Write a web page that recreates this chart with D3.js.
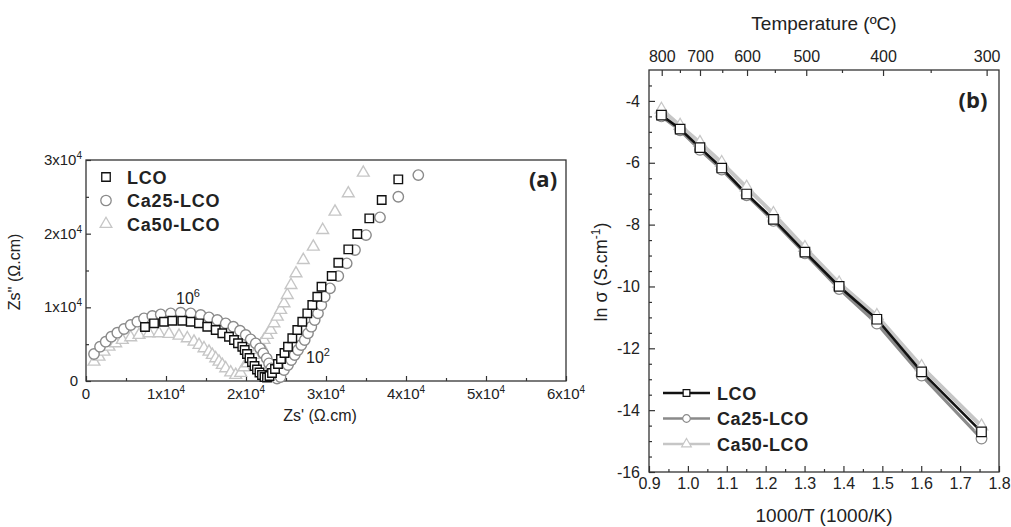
<!DOCTYPE html>
<html>
<head>
<meta charset="utf-8">
<script src="https://cdn.jsdelivr.net/npm/d3@7"></script>
<style>
  body { margin: 0; background: #fff; }
  text { font-family: "Liberation Sans", Arial, sans-serif; fill: #222; }
</style>
</head>
<body>
<div id="chart"></div>
<script>
// ---- panel (a): impedance spectra (ohm.cm) ----
const lcoRe  = [7375, 8500, 9750, 10788, 12038, 13088, 14125, 15163, 16213, 17038, 17875, 18500, 19000, 19538, 19838, 20125, 20438, 20750, 21063, 21375, 21688, 22000, 22313, 22625, 22938, 23250, 23625, 24000, 24375, 24813, 25250, 25788, 26413, 27038, 27663, 28288, 28913, 29438, 30713, 31538, 32788, 33913, 35413, 36963, 39038];
const lcoIm  = [7328, 7830, 8047, 8183, 8183, 8047, 7830, 7368, 6921, 6473, 6012, 5564, 5116, 4654, 4207, 3664, 3121, 2578, 2036, 1561, 1153, 814, 543, 475, 679, 1086, 1628, 2307, 2985, 3800, 4654, 5794, 6921, 8047, 9187, 10313, 11440, 12797, 14249, 16053, 17872, 19948, 22079, 24562, 27371];
const ca25Re = [1000, 1750, 2463, 3163, 3913, 4750, 5588, 6413, 7250, 8288, 9338, 10588, 11838, 13088, 14338, 15375, 16413, 17463, 18413, 19250, 19963, 20588, 21213, 21750, 22163, 22588, 22875, 23163, 23413, 23588, 23875, 24313, 24750, 25250, 25663, 26088, 26500, 26913, 27338, 27750, 28163, 28588, 29000, 29413, 29838, 30500, 31538, 32588, 33625, 35000, 36750, 39038, 41538];
const ca25Im = [3664, 4655, 5333, 6012, 6554, 7056, 7599, 8047, 8508, 8821, 9051, 9187, 9268, 9187, 8956, 8644, 8278, 7830, 7368, 6826, 6242, 5659, 5116, 4437, 3759, 3080, 2402, 1723, 1045, 584, 339, 543, 1493, 2171, 2850, 3528, 4207, 4885, 5564, 6473, 7368, 8278, 9187, 10313, 11440, 12580, 14249, 15972, 17777, 19812, 22214, 25010, 27954];
const ca50Re = [1000, 1625, 2250, 2875, 3713, 4538, 5588, 6625, 7875, 9125, 10375, 11625, 12663, 13500, 14125, 14750, 15375, 15788, 16213, 16625, 17038, 17463, 18088, 18713, 19338, 19750, 20163, 20588, 21000, 21413, 21838, 22250, 22663, 23088, 23500, 23913, 24338, 24750, 25163, 25625, 26250, 27163, 28413, 29588, 31125, 32788, 34663];
const ca50Im = [2619, 3298, 3976, 4655, 5116, 5564, 5930, 6242, 6473, 6473, 6378, 6147, 5794, 5333, 4885, 4437, 3976, 3528, 3080, 2619, 2171, 1723, 1153, 814, 1086, 1859, 2402, 2945, 3528, 4207, 4885, 5564, 6242, 6921, 7830, 8726, 9635, 10544, 11670, 13027, 14615, 16420, 18225, 20491, 22974, 25471, 28266];

// ---- panel (b): Arrhenius plot ----
const invT    = [0.932, 0.980, 1.031, 1.087, 1.151, 1.220, 1.301, 1.389, 1.486, 1.601, 1.755];
const lnLCO   = [-4.46, -4.91, -5.51, -6.17, -7.01, -7.83, -8.89, -10.00, -11.06, -12.76, -14.70];
const lnCa25  = [-4.50, -4.95, -5.58, -6.22, -7.05, -7.88, -8.93, -10.08, -11.20, -12.88, -14.92];
const lnCa50  = [-4.28, -4.80, -5.35, -6.00, -6.80, -7.65, -8.75, -9.90, -10.95, -12.60, -14.52];
const tempTicks = [800, 700, 600, 500, 400, 300];
const tempMinor = [750, 650, 550, 450, 350];

const seriesNames = ["LCO", "Ca25-LCO", "Ca50-LCO"];
const seriesColor = ["#111", "#8a8a8a", "#c6c6c6"];

const W = 1011, H = 527;
const svg = d3.select("#chart").append("svg")
  .attr("width", W).attr("height", H);

// ================= panel (a) =================
const ax = d3.scaleLinear().domain([0, 60000]).range([86, 566]);
const ay = d3.scaleLinear().domain([0, 30000]).range([381, 160]);

const gA = svg.append("g");

// ticks (inward)
gA.append("g").attr("transform", "translate(0,381)")
  .call(d3.axisBottom(ax).tickValues(d3.range(0, 60001, 10000)).tickSize(-5).tickFormat(""));
gA.append("g").attr("transform", "translate(0,381)")
  .call(d3.axisBottom(ax).tickValues(d3.range(5000, 60000, 10000)).tickSize(-3).tickFormat(""));
gA.append("g").attr("transform", "translate(86,0)")
  .call(d3.axisLeft(ay).tickValues(d3.range(0, 30001, 10000)).tickSize(-5).tickFormat(""));
gA.append("g").attr("transform", "translate(86,0)")
  .call(d3.axisLeft(ay).tickValues(d3.range(5000, 30000, 10000)).tickSize(-3).tickFormat(""));
gA.selectAll(".domain").remove();
gA.selectAll(".tick line").attr("stroke", "#333").attr("stroke-width", 1.2);

// tick labels with superscripts
function sciLabel(sel, v) {
  if (v === 0) { sel.text("0"); return; }
  sel.text((v / 10000) + "x10");
  sel.append("tspan").attr("font-size", "10px").attr("dy", -6).text("4");
}
d3.range(0, 60001, 10000).forEach(v => {
  const t = gA.append("text").attr("x", ax(v)).attr("y", 399)
    .attr("text-anchor", "middle").attr("font-size", "15px");
  sciLabel(t, v);
});
d3.range(0, 30001, 10000).forEach(v => {
  const t = gA.append("text").attr("x", v === 0 ? 78 : 82).attr("y", ay(v) + 5)
    .attr("text-anchor", "end").attr("font-size", "15px");
  sciLabel(t, v);
});

gA.append("rect").attr("x", 86).attr("y", 160).attr("width", 480).attr("height", 221)
  .attr("fill", "none").attr("stroke", "#333").attr("stroke-width", 1.3);

gA.append("text").attr("x", 320).attr("y", 421).attr("text-anchor", "middle")
  .attr("font-size", "16px").text("Zs' (Ω.cm)");
gA.append("text").attr("transform", "translate(20,272) rotate(-90)")
  .attr("text-anchor", "middle").attr("font-size", "16px").text("Zs'' (Ω.cm)");

// markers
const symSq = d3.symbol().type(d3.symbolSquare).size(72);
const symCi = d3.symbol().type(d3.symbolCircle).size(85);
const symTr = d3.symbol().type(d3.symbolTriangle).size(60);

function scatter(re, im, sym, color) {
  gA.append("g").selectAll("path").data(re).join("path")
    .attr("d", sym)
    .attr("transform", (d, i) => `translate(${ax(d)},${ay(im[i])})`)
    .attr("fill", "#fff").attr("stroke", color).attr("stroke-width", 1.4);
}
scatter(ca50Re, ca50Im, symTr, seriesColor[2]);
scatter(ca25Re, ca25Im, symCi, seriesColor[1]);
scatter(lcoRe, lcoIm, symSq, seriesColor[0]);

// frequency annotations
const a6 = gA.append("text").attr("x", 176).attr("y", 304).attr("font-size", "16px").text("10");
a6.append("tspan").attr("font-size", "11px").attr("dy", -7).text("6");
const a2 = gA.append("text").attr("x", 306).attr("y", 363).attr("font-size", "16px").text("10");
a2.append("tspan").attr("font-size", "11px").attr("dy", -7).text("2");

// legend (a)
const legSyms = [symSq, symCi, symTr];
seriesNames.forEach((n, i) => {
  const y = 177 + i * 23.5;
  gA.append("path").attr("d", legSyms[i]).attr("transform", `translate(106,${y})`)
    .attr("fill", "#fff").attr("stroke", seriesColor[i]).attr("stroke-width", 1.3);
  gA.append("text").attr("x", 127).attr("y", y + 6.5)
    .attr("font-size", "18px").attr("font-weight", "bold")
    .style("letter-spacing", "0.8px").text(n);
});
gA.append("text").attr("x", 543).attr("y", 187).attr("text-anchor", "middle")
  .attr("font-weight", "bold").attr("font-size", "22px")
  .style("font-family", "'Open Sans'").text("(a)");

// ================= panel (b) =================
const bx = d3.scaleLinear().domain([0.9, 1.8]).range([649, 999]);
const by = d3.scaleLinear().domain([-16, -3]).range([472, 70]);
const bxTop = d3.scaleLinear().domain([0.9, 1.7757]).range([649, 999]);
const toInv = t => 1000 / (t + 273.15);

const gB = svg.append("g");

gB.append("g").attr("transform", "translate(0,472)")
  .call(d3.axisBottom(bx).tickValues(d3.range(9, 19).map(v => v / 10))
    .tickSize(-6).tickPadding(6).tickFormat(d3.format(".1f")));
gB.append("g").attr("transform", "translate(0,472)")
  .call(d3.axisBottom(bx).tickValues(d3.range(9, 18).map(v => v / 10 + 0.05))
    .tickSize(-3).tickFormat(""));
gB.append("g").attr("transform", "translate(649,0)")
  .call(d3.axisLeft(by).tickValues(d3.range(-16, -3, 2))
    .tickSize(-6).tickPadding(9).tickFormat(d => String(d)));
gB.append("g").attr("transform", "translate(649,0)")
  .call(d3.axisLeft(by).tickValues(d3.range(-15.5, -3, 0.5).filter(v => v % 2 !== 0))
    .tickSize(-3).tickFormat(""));
gB.append("g").attr("transform", "translate(0,70)")
  .call(d3.axisTop(bxTop).tickValues(tempTicks.map(toInv))
    .tickSize(-6).tickPadding(8).tickFormat((d, i) => tempTicks[i]));
gB.append("g").attr("transform", "translate(0,70)")
  .call(d3.axisTop(bxTop).tickValues(tempMinor.map(toInv))
    .tickSize(-3).tickFormat(""));
gB.selectAll(".domain").remove();
gB.selectAll(".tick line").attr("stroke", "#333").attr("stroke-width", 1.2);
gB.selectAll(".tick text").attr("font-size", "16px")
  .attr("font-family", "'Liberation Sans', Arial, sans-serif").attr("fill", "#222");

gB.append("rect").attr("x", 649).attr("y", 70).attr("width", 350).attr("height", 402)
  .attr("fill", "none").attr("stroke", "#333").attr("stroke-width", 1.3);

gB.append("text").attr("x", 824).attr("y", 30).attr("text-anchor", "middle")
  .attr("font-size", "19px").text("Temperature (ºC)");
gB.append("text").attr("x", 824).attr("y", 522).attr("text-anchor", "middle")
  .attr("font-size", "19px").text("1000/T (1000/K)");
const yl = gB.append("text").attr("transform", "translate(607,272) rotate(-90)")
  .attr("text-anchor", "middle").attr("font-size", "18px").text("ln σ (S.cm");
yl.append("tspan").attr("font-size", "12px").attr("dy", -7).text("-1");
yl.append("tspan").attr("dy", 7).text(")");

const line = d3.line().x((d, i) => bx(invT[i])).y(d => by(d));
const lnData = [lnLCO, lnCa25, lnCa50];
const lineW = [2.6, 3.2, 4];
const symB = [
  d3.symbol().type(d3.symbolSquare).size(90),
  d3.symbol().type(d3.symbolCircle).size(90),
  d3.symbol().type(d3.symbolTriangle).size(70)
];
[2, 1, 0].forEach(k => {
  gB.append("path").datum(lnData[k]).attr("d", line)
    .attr("fill", "none").attr("stroke", seriesColor[k]).attr("stroke-width", lineW[k]);
});
[2, 1, 0].forEach(k => {
  gB.append("g").selectAll("path").data(lnData[k]).join("path")
    .attr("d", symB[k])
    .attr("transform", (d, i) => `translate(${bx(invT[i])},${by(d)})`)
    .attr("fill", "#fff").attr("stroke", seriesColor[k]).attr("stroke-width", 1.2);
});

// legend (b)
const legB = [
  d3.symbol().type(d3.symbolSquare).size(45),
  d3.symbol().type(d3.symbolCircle).size(45),
  d3.symbol().type(d3.symbolTriangle).size(40)
];
seriesNames.forEach((n, i) => {
  const y = 393 + i * 25.5;
  gB.append("line").attr("x1", 663).attr("x2", 710).attr("y1", y).attr("y2", y)
    .attr("stroke", seriesColor[i]).attr("stroke-width", 2.6);
  gB.append("path").attr("d", legB[i]).attr("transform", `translate(686.5,${y})`)
    .attr("fill", "#fff").attr("stroke", seriesColor[i]).attr("stroke-width", 1.2);
  gB.append("text").attr("x", 717).attr("y", y + 6.5)
    .attr("font-size", "18px").attr("font-weight", "bold")
    .style("letter-spacing", "0.6px").text(n);
});
gB.append("text").attr("x", 973).attr("y", 108).attr("text-anchor", "middle")
  .attr("font-weight", "bold").attr("font-size", "22px")
  .style("font-family", "'Open Sans'").text("(b)");
</script>
</body>
</html>
